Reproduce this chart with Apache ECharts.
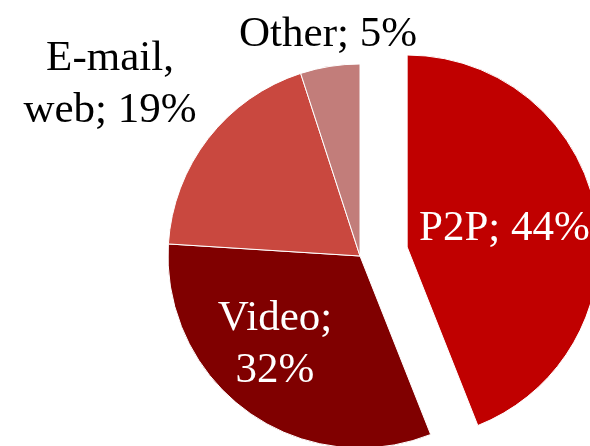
<!DOCTYPE html>
<html>
<head>
<meta charset="utf-8">
<script src="https://cdn.jsdelivr.net/npm/echarts@6/dist/echarts.min.js"></script>
<style>
  html, body { margin: 0; padding: 0; background: #fff; }
  #main { width: 590px; height: 446px; }
</style>
</head>
<body>
<div id="main"></div>
<script>
// traffic share
var names = ['P2P', 'Video', 'E-mail,\nweb', 'Other'];
var shares = [44, 32, 19, 5];
var colors = ['#C00000', '#800000', '#C9483F', '#C27D7A'];
var labelText = ['P2P; 44%', 'Video;\n32%', 'E-mail,\nweb; 19%', 'Other; 5%'];

var myChart = echarts.init(document.getElementById('main'));

var data = names.map(function (n, i) {
    return {
        name: n,
        value: shares[i],
        selected: i === 0,
        itemStyle: { color: colors[i] },
        label: { formatter: labelText[i], color: i < 2 ? '#fff' : '#000' }
    };
});

var option = {
    animation: false,
    series: [{
        type: 'pie',
        center: [360, 256],
        radius: 192,
        startAngle: 90,
        clockwise: true,
        selectedMode: 'single',
        selectedOffset: 48,
        data: data,
        itemStyle: { borderColor: '#fff', borderWidth: 1 },
        label: {
            position: 'inside',
            fontFamily: 'Liberation Serif',
            fontSize: 43,
            lineHeight: 52,
            align: 'center'
        },
        labelLine: { show: false },
        emphasis: { disabled: true },
        // 手动摆放标签位置
        labelLayout: function (p) {
            var pos = [[493, 225], [275, 345], [110, 85], [328, 35]][p.dataIndex];
            return { x: pos[0], y: pos[1], align: 'center', verticalAlign: 'middle' };
        }
    }]
};
myChart.setOption(option);
</script>
</body>
</html>
